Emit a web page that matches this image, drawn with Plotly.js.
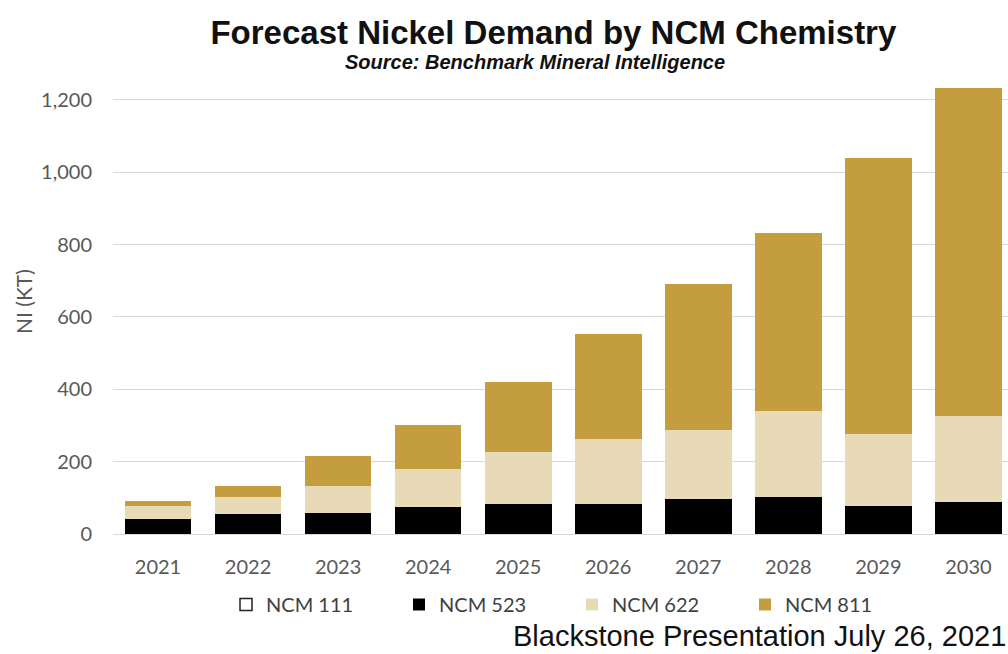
<!DOCTYPE html>
<html>
<head>
<meta charset="utf-8">
<script src="https://cdn.plot.ly/plotly-3.0.1.min.js"></script>
<style>
  html, body { margin: 0; padding: 0; background: #ffffff; }
  #chart { width: 1008px; height: 654px; }
</style>
</head>
<body>
<div id="chart"></div>
<script>
// Forecast nickel demand (kt Ni) split by NCM cathode chemistry
const years = ['2021', '2022', '2023', '2024', '2025', '2026', '2027', '2028', '2029', '2030'];
const ncm111 = [0, 0, 0, 0, 0, 0, 0, 0, 0, 0];
const ncm523 = [42, 54, 59, 75, 83, 84, 96, 102, 77, 88];
const ncm622 = [35, 47, 73, 104, 144, 180, 191, 237, 199, 238];
const ncm811 = [13, 32, 83, 121, 194, 288, 403, 492, 763, 906];

const seriesNames = ['NCM 111', 'NCM 523', 'NCM 622', 'NCM 811'];
const seriesValues = [ncm111, ncm523, ncm622, ncm811];
const seriesColors = ['#ffffff', '#000000', '#E9DAB7', '#C49D3F'];
const seriesOutline = ['#222222', '#000000', '#E9DAB7', '#C49D3F'];

const traces = seriesNames.map((name, i) => ({
  type: 'bar',
  name: name,
  x: years,
  y: seriesValues[i],
  marker: {
    color: seriesColors[i],
    line: { color: seriesOutline[i], width: i === 0 ? 1.5 : 0 }
  },
  hoverinfo: 'x+y+name'
}));

const grey = '#595959';
const plotLeft = 113, plotW = 1008 - plotLeft;
const plotTop = 80, plotBottom = 534, plotH = plotBottom - plotTop;

const layout = {
  width: 1008,
  height: 654,
  margin: { l: plotLeft, r: 0, t: plotTop, b: 654 - plotBottom },
  paper_bgcolor: '#ffffff',
  plot_bgcolor: '#ffffff',
  barmode: 'stack',
  bargap: 0.26,
  font: { family: 'Lato, "Open Sans", sans-serif', color: grey, size: 20 },
  title: {
    text: '<b>Forecast Nickel Demand by NCM Chemistry</b>',
    font: { family: '"Liberation Sans", Arial, sans-serif', size: 33, color: '#111111' },
    x: 0.549, xanchor: 'center', xref: 'container',
    y: 0.951, yanchor: 'middle', yref: 'container'
  },
  xaxis: {
    type: 'category',
    range: [-0.5, 9.44],
    showgrid: false,
    showline: true,
    linecolor: '#d9d9d9',
    linewidth: 1,
    ticks: '',
    ticklabelstandoff: 15,
    tickfont: { family: 'Lato, sans-serif', size: 20, color: grey },
    fixedrange: true
  },
  yaxis: {
    range: [0, 1255],
    dtick: 200,
    tick0: 0,
    tickformat: ',d',
    showgrid: true,
    gridcolor: '#d9d9d9',
    gridwidth: 1,
    zeroline: true,
    zerolinecolor: '#d9d9d9',
    zerolinewidth: 1,
    showline: false,
    ticks: '',
    ticklabelstandoff: 20,
    tickfont: { family: 'Lato, sans-serif', size: 20, color: grey },
    automargin: false,
    fixedrange: true
  },
  showlegend: true,
  legend: {
    orientation: 'h',
    x: (226 - plotLeft) / plotW, xanchor: 'left',
    y: -(585 - plotBottom) / plotH, yanchor: 'top',
    font: { family: 'Lato, sans-serif', size: 20, color: '#404040' },
    traceorder: 'normal',
    itemwidth: 30,
    entrywidth: 128,
    bgcolor: 'rgba(0,0,0,0)'
  },
  annotations: [
    {
      // value axis label
      text: 'NI (KT)',
      xref: 'paper', yref: 'paper',
      x: (23 - plotLeft) / plotW, y: (plotBottom - 302) / plotH,
      xanchor: 'center', yanchor: 'middle',
      textangle: -90,
      showarrow: false,
      font: { family: 'Lato, sans-serif', size: 21, color: grey }
    },
    {
      text: '<b><i>Source: Benchmark Mineral Intelligence</i></b>',
      xref: 'paper', yref: 'paper',
      x: (535 - plotLeft) / plotW, y: 1.0 + (plotTop - 62) / plotH,
      xanchor: 'center', yanchor: 'middle',
      showarrow: false,
      font: { family: '"Liberation Sans", Arial, sans-serif', size: 20, color: '#111111' }
    },
    {
      text: 'Blackstone Presentation July 26, 2021',
      xref: 'paper', yref: 'paper',
      x: 1.0, y: -(636 - plotBottom) / plotH,
      xanchor: 'right', yanchor: 'middle',
      showarrow: false,
      font: { family: '"Liberation Sans", Arial, sans-serif', size: 29, color: '#111111' }
    }
  ]
};

Plotly.newPlot('chart', traces, layout, { displayModeBar: false, staticPlot: true });
</script>
</body>
</html>
